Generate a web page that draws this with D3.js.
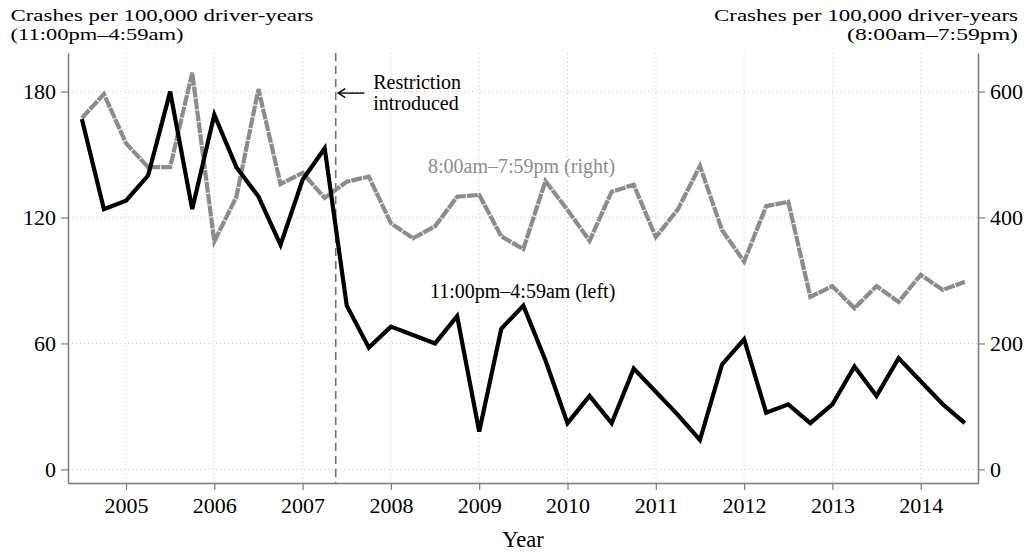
<!DOCTYPE html>
<html>
<head>
<meta charset="utf-8">
<script src="https://cdn.jsdelivr.net/npm/d3@7"></script>
<style>
  html, body { margin: 0; padding: 0; background: #fff; }
  svg { display: block; font-family: "Liberation Serif", "Times New Roman", serif; }
</style>
</head>
<body>
<svg id="chart" width="1031" height="554"></svg>
<script>
// Quarterly observations, mid-2004 to mid-2014
const quarters = d3.range(41).map(i => 2004.5 + i * 0.25);

// Late-night crash rate (left axis), crashes per 100,000 driver-years
const nightRate = [
  167, 124, 128, 140, 180, 124, 169, 144, 130, 107,
  138, 153, 78, 58, 68, 64, 60, 73, 18, 67,
  78, 52, 22, 35, 22, 48, 37, 26, 14, 50,
  62, 27, 31, 22, 31, 49, 35, 53, 42, 31, 22
];

// Daytime crash rate (right axis), crashes per 100,000 driver-years
const dayRate = [
  558, 596, 518, 480, 480, 630, 362, 433, 604, 453,
  471, 431, 457, 465, 391, 367, 386, 433, 436, 370,
  350, 458, 412, 363, 441, 452, 369, 413, 482, 380,
  330, 418, 425, 274, 291, 256, 291, 266, 309, 285, 298
];

const yearTicks = d3.range(2005, 2015);
const leftTicks = [0, 60, 120, 180];
const rightTicks = [0, 200, 400, 600];
const restrictionDate = 2007.375;

const svg = d3.select("#chart");
const plot = { left: 68, right: 978, top: 53, bottom: 483 };

const x = d3.scaleLinear().domain([2004.343, 2014.649]).range([plot.left, plot.right]);
const yL = d3.scaleLinear().domain([-6.5, 198.4]).range([plot.bottom, plot.top]);
const yR = d3.scaleLinear().domain([-6.5 * 10 / 3, 198.4 * 10 / 3]).range([plot.bottom, plot.top]);

const axisGrey = "#7a7a7a";
const gridGrey = "#c8c8c8";
const serif = '"Liberation Serif", "Times New Roman", serif';

// Dotted grid
const grid = svg.append("g");
grid.selectAll("line.h").data(leftTicks).join("line")
  .attr("x1", plot.left).attr("x2", plot.right)
  .attr("y1", d => yL(d)).attr("y2", d => yL(d))
  .attr("stroke", gridGrey).attr("stroke-width", 1).attr("stroke-dasharray", "1,3");
grid.selectAll("line.v").data(yearTicks).join("line")
  .attr("x1", d => x(d)).attr("x2", d => x(d))
  .attr("y1", plot.top).attr("y2", plot.bottom)
  .attr("stroke", gridGrey).attr("stroke-width", 1).attr("stroke-dasharray", "1,3");

// Axes
function styleAxis(g) {
  g.select(".domain").attr("stroke", axisGrey).attr("stroke-width", 1.5);
  g.selectAll(".tick line").attr("stroke", axisGrey).attr("stroke-width", 1.2);
  g.selectAll(".tick text").attr("fill", "#000")
    .style("font-family", serif)
    .style("font-size", "22px");
}

svg.append("g").attr("transform", `translate(0,${plot.bottom})`)
  .call(d3.axisBottom(x).tickValues(yearTicks).tickFormat(d3.format("d")).tickSize(7).tickSizeOuter(0).tickPadding(7))
  .call(styleAxis);

svg.append("g").attr("transform", `translate(${plot.left},0)`)
  .call(d3.axisLeft(yL).tickValues(leftTicks).tickSize(7).tickSizeOuter(0).tickPadding(5))
  .call(styleAxis);

svg.append("g").attr("transform", `translate(${plot.right},0)`)
  .call(d3.axisRight(yR).tickValues(rightTicks).tickSize(7).tickSizeOuter(0).tickPadding(5))
  .call(styleAxis);

// Restriction marker
svg.append("line")
  .attr("x1", x(restrictionDate)).attr("x2", x(restrictionDate))
  .attr("y1", plot.top).attr("y2", plot.bottom)
  .attr("stroke", "#707070").attr("stroke-width", 1.6).attr("stroke-dasharray", "8,5");

const arrowY = yL(180) + 1.5;
const ax0 = x(restrictionDate) + 2.5;
svg.append("line").attr("x1", ax0).attr("x2", ax0 + 26)
  .attr("y1", arrowY).attr("y2", arrowY).attr("stroke", "#000").attr("stroke-width", 1.4);
svg.append("path")
  .attr("d", `M${ax0 + 7},${arrowY - 4.5} L${ax0},${arrowY} L${ax0 + 7},${arrowY + 4.5}`)
  .attr("fill", "none").attr("stroke", "#000").attr("stroke-width", 1.4);

svg.append("text").attr("x", ax0 + 35).attr("y", arrowY - 4)
  .attr("font-size", 20).text("Restriction");
svg.append("text").attr("x", ax0 + 35).attr("y", arrowY + 17)
  .attr("font-size", 20).text("introduced");

// Series lines
const dayLine = d3.line().x((d, i) => x(quarters[i])).y(d => yR(d));
const nightLine = d3.line().x((d, i) => x(quarters[i])).y(d => yL(d));

svg.append("path").datum(dayRate)
  .attr("d", dayLine).attr("fill", "none")
  .attr("stroke", "#8c8c8c").attr("stroke-width", 4.2)
  .attr("stroke-linejoin", "miter").attr("stroke-dasharray", "11,1");

svg.append("path").datum(nightRate)
  .attr("d", nightLine).attr("fill", "none")
  .attr("stroke", "#000").attr("stroke-width", 4.2)
  .attr("stroke-linejoin", "miter");

// Series labels
svg.append("text").attr("x", 428).attr("y", 173)
  .attr("font-size", 20).attr("fill", "#8c8c8c").text("8:00am–7:59pm (right)");
svg.append("text").attr("x", 430).attr("y", 298)
  .attr("font-size", 20).attr("fill", "#000").text("11:00pm–4:59am (left)");

// Axis titles: compact type, widened to the title block widths
const titleSize = 17.5;
function titleLine(anchor, xPos, yPos, str, width) {
  svg.append("text")
    .attr("x", xPos).attr("y", yPos)
    .attr("text-anchor", anchor)
    .attr("font-size", titleSize)
    .attr("textLength", width)
    .attr("lengthAdjust", "spacingAndGlyphs")
    .text(str);
}
titleLine("start", 10.5, 20.5, "Crashes per 100,000 driver-years", 303);
titleLine("start", 10.5, 40.3, "(11:00pm–4:59am)", 173);
titleLine("end", 1018, 20.5, "Crashes per 100,000 driver-years", 304);
titleLine("end", 1018, 40.3, "(8:00am–7:59pm)", 171);

svg.append("text").attr("x", 523).attr("y", 547).attr("text-anchor", "middle")
  .attr("font-size", 22.5).text("Year");
</script>
</body>
</html>
